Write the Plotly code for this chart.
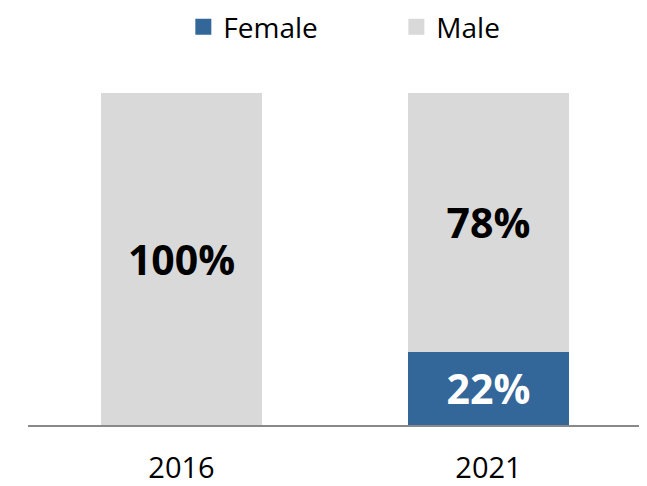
import plotly.graph_objects as go

years = ["2016", "2021"]
female = [0, 22]
male = [100, 78]
series_names = ["Female", "Male"]
colors = ["#336699", "#D9D9D9"]

def labels(vals):
    return [f"{v}%" if v > 0 else "" for v in vals]

fig = go.Figure()
fig.add_trace(go.Bar(
    x=years, y=female, name="Female", marker_color=colors[0], showlegend=False,
    text=labels(female), textposition="inside", insidetextanchor="middle",
    textfont=dict(color="white", size=41, family="Open Sans", weight="bold"),
    marker_line_width=0,
))
fig.add_trace(go.Bar(
    x=years, y=male, name="Male", marker_color=colors[1], showlegend=False,
    text=labels(male), textposition="inside", insidetextanchor="middle",
    textfont=dict(color="black", size=41, family="Open Sans", weight="bold"),
    marker_line_width=0,
))
for n, c in zip(series_names, colors):
    fig.add_trace(go.Scatter(
        x=[None], y=[None], mode="markers", name=n,
        marker=dict(symbol="square", size=19, color=c),
    ))
fig.update_layout(
    barmode="stack",
    bargap=0.476,
    width=647, height=486,
    margin=dict(l=20, r=13, t=85, b=69),
    plot_bgcolor="white", paper_bgcolor="white",
    font=dict(family="Open Sans", size=24, color="black"),
    legend=dict(orientation="h", x=0.253, xanchor="left", y=0.961, yref="container",
                yanchor="middle", font=dict(size=28), itemsizing="trace",
                traceorder="normal", entrywidth=168),
    xaxis=dict(showline=True, linecolor="#898989", linewidth=2, ticks="",
               tickfont=dict(size=29), ticklabelstandoff=16, automargin=False),
    yaxis=dict(range=[0, 100], visible=False, showgrid=False, automargin=False),
)
fig.write_html("out.html")
